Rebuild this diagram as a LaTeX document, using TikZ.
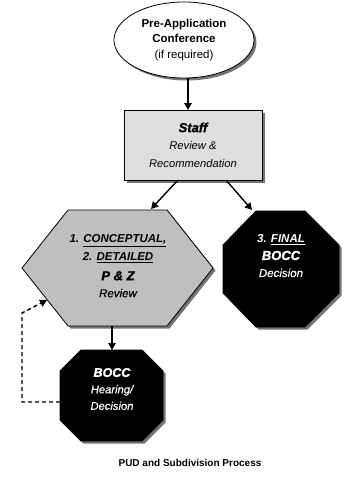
\documentclass[tikz,border=0pt]{standalone}
\usepackage{fontspec}
\setmainfont{Liberation Sans}
\newfontfamily\heavyit{Liberation Sans Bold Italic}[FakeBold=1.6]
\newfontfamily\semiit{Liberation Sans Italic}[FakeBold=0.6]
\usetikzlibrary{arrows.meta,shapes.geometric,shadows}
\begin{document}
\begin{tikzpicture}[x=1pt,y=-1pt,
  shd/.style={drop shadow={shadow xshift=2.5pt,shadow yshift=-2.5pt,fill=black!55,opacity=1}},
  arr/.style={line width=1.4pt,-{Triangle[length=7pt,width=7.5pt]}},
  dasharr/.style={line width=1.4pt,dash pattern=on 4pt off 3pt,-{Triangle[length=7pt,width=7.5pt]}},
  txt/.style={align=center,inner sep=0pt},
  border/.style={draw=black,line width=0.8pt}]
\useasboundingbox (0,0) rectangle (345,485);

% Pre-application ellipse
\node[ellipse,border,fill=white,shd,minimum width=140pt,minimum height=76pt,
      txt,font=\fontsize{11.5}{15.5}\selectfont] (pre) at (184,40)
  {\bfseries Pre-Application\\
   \bfseries Conference\\
   (if required)};

% Staff box
\node[rectangle,border,fill=black!13,shd,minimum width=138pt,minimum height=70pt,
      txt,font=\fontsize{11.2}{17.5}\selectfont] (staff) at (193,145)
  {{\fontsize{13}{15}\selectfont\heavyit Staff}\\
   \itshape Review \&\\
   \itshape Recommendation};

% Hexagon
\draw[border,fill=black!25,shd] (68,210) coordinate (hTL) -- (167,210) coordinate (hTR)
  -- (213,268) coordinate (hR) -- (167,326) coordinate (hBR) -- (68,326) coordinate (hBL)
  -- (22,268) coordinate (hL) -- cycle;
\node[txt,font=\fontsize{11.5}{18}\selectfont] (pz) at (118,266)
  {\bfseries\itshape 1. \underline{CONCEPTUAL,}\\
   \bfseries\itshape 2. \underline{DETAILED}\\[1.5pt]
   {\fontsize{13}{15}\selectfont\heavyit P \& Z}\\[-1pt]
   \semiit Review};

% Final octagon
\draw[border,fill=black,shd] (256,211) -- (305,211) -- (339,245) -- (339,293) -- (305,327)
  -- (256,327) -- (223,293) -- (223,245) -- cycle;
\node[txt,text=white,font=\fontsize{11.5}{17}\selectfont] (final) at (281,256)
  {\bfseries\itshape 3. \underline{FINAL}\\
   {\fontsize{13}{15}\selectfont\heavyit BOCC}\\
   \semiit Decision};

% Bottom octagon
\draw[border,fill=black,shd] (81,350) -- (142,350) -- (163,371) -- (163,420) -- (142,441)
  -- (81,441) -- (60,420) -- (60,371) -- cycle;
\coordinate (botW) at (60,402);
\coordinate (botN) at (112,350);
\node[txt,text=white,font=\fontsize{11.2}{16.5}\selectfont] (hear) at (112,389)
  {{\fontsize{12.5}{15}\selectfont\heavyit BOCC}\\
   \semiit Hearing/\\
   \semiit Decision};

% connectors
\coordinate (preOut) at (188,78);
\coordinate (staffIn) at (188,110);
\coordinate (staffBL) at (178,180);
\coordinate (staffBR) at (226,180);
\coordinate (hexIn) at (151,209);
\coordinate (finIn) at (252,210);
\coordinate (hexOut) at (112,326);
\draw[arr] (preOut) -- (staffIn);
\draw[arr] (staffBL) -- (hexIn);
\draw[arr] (staffBR) -- (finIn);
\draw[arr] (hexOut) -- (botN);
\coordinate (dA) at (22,402);
\coordinate (dB) at (22,313);
\coordinate (hexEdge) at (47,300);
\draw[dasharr] (botW) -- (dA) -- (dB) -- (hexEdge);

% title
\node[txt] (title) at (190,463) {\fontsize{10}{12}\selectfont\bfseries PUD and Subdivision Process};
\end{tikzpicture}
\end{document}
